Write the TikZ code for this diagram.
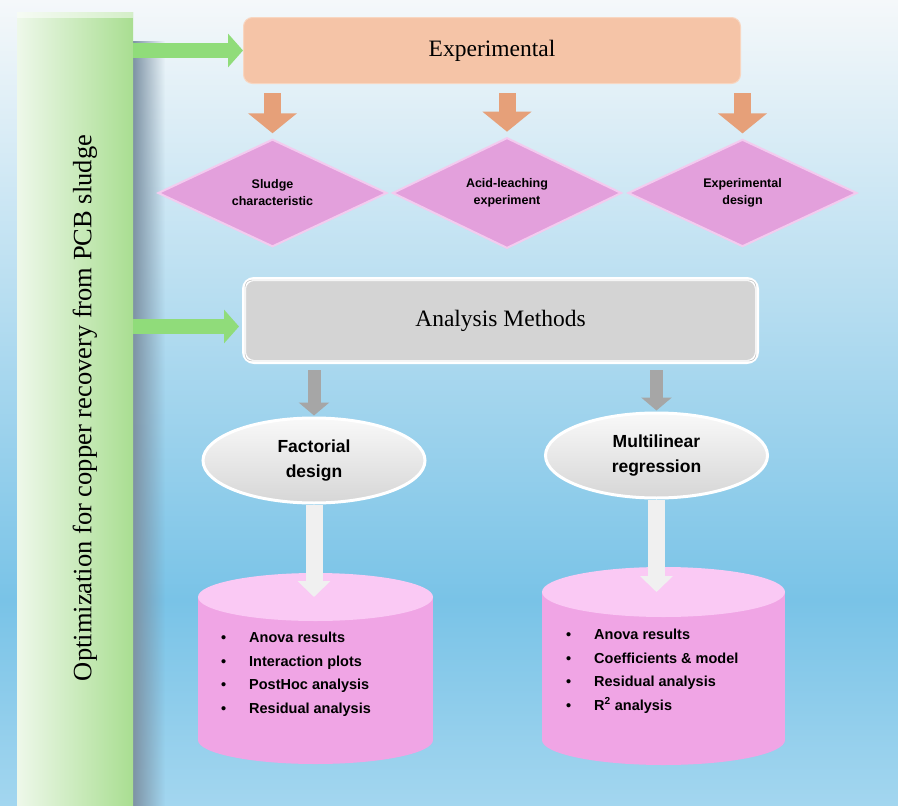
\documentclass[tikz,border=0pt]{standalone}
\usepackage{fontspec}
\setmainfont{Liberation Serif}
\setsansfont{Liberation Sans}
\usetikzlibrary{shapes.geometric,arrows.meta,fadings}

% Colori
\definecolor{sfondoalto}{HTML}{F5F8FA}
\definecolor{sfondomezzo}{HTML}{79C3E7}
\definecolor{sfondobasso}{HTML}{A3D6EF}
\definecolor{verdechiaro}{HTML}{EEF8EA}
\definecolor{verde}{HTML}{A9DE91}
\definecolor{verdefreccia}{HTML}{90DC7A}
\definecolor{ombra}{HTML}{7E93A5}
\definecolor{pesca}{HTML}{F5C4A7}
\definecolor{arancio}{HTML}{E6A079}
\definecolor{rosa}{HTML}{E3A0DC}
\definecolor{rosabordo}{HTML}{F3CBEF}
\definecolor{grigio}{HTML}{D4D4D4}
\definecolor{cilcorpo}{HTML}{F0A5E5}
\definecolor{cilcima}{HTML}{FAC9F4}

\tikzset{
  frecciaverde/.style={draw=verdefreccia, line width=15pt, -{Triangle[width=33pt,length=15pt]}},
  frecciaarancio/.style={draw=arancio, line width=17pt, -{Triangle[width=48pt,length=20pt]}, shorten <=9pt, shorten >=5pt},
  frecciagrigia/.style={draw=gray!70, line width=13pt, -{Triangle[width=30pt,length=13pt]}, shorten <=6pt, shorten >=1pt},
  frecciabianca/.style={draw=gray!12, line width=17pt, -{Triangle[width=32pt,length=16pt]}},
  rombo/.style={diamond, fill=rosa, draw=rosabordo, line width=2pt, minimum width=229pt, minimum height=105pt,
    inner sep=0pt, align=center, font=\sffamily\bfseries\fontsize{12.5}{17}\selectfont},
  ovale/.style={ellipse, draw=white, line width=3pt, top color=gray!5, bottom color=gray!32, minimum width=222pt,
    minimum height=85pt, align=center, font=\sffamily\bfseries\fontsize{17.5}{24.5}\selectfont},
  elenco/.style={anchor=north west, inner sep=0pt, align=left, font=\sffamily\bfseries\fontsize{14.5}{23.5}\selectfont}
}

\begin{document}
\begin{tikzpicture}[x=1pt,y=-1pt]

% Sfondo
\useasboundingbox (0,0) rectangle (898,806);
\shade[top color=sfondoalto, bottom color=sfondomezzo] (0,0) rectangle (898,600);
\shade[top color=sfondomezzo, bottom color=sfondobasso] (0,600) rectangle (898,806);

% Barra verde con ombra
\fill[ombra, path fading=east] (133,40) rectangle (165,806);
\node[left color=verdechiaro, right color=verde, minimum width=116pt, minimum height=794pt, inner sep=0pt] (barra) at (75,409) {};
\fill[white, opacity=0.5] (barra.north west) rectangle ([yshift=-6pt]barra.north east);
\node[rotate=90, font=\fontsize{26.5}{30}\selectfont] (titolo) at (85,408) {Optimization for copper recovery from PCB sludge};

% Blocco sperimentale
\node[rectangle, rounded corners=9pt, fill=pesca, draw=pesca!70!white, line width=1pt, minimum width=497pt,
  minimum height=66pt, font=\fontsize{23.5}{28}\selectfont] (exp) at (492,50.5) {Experimental};
\draw[frecciaverde] (barra.east |- exp.west) -- (exp.west);

% Rombi
\foreach \nome/\x/\testo in {d1/272.5/{Sludge\\characteristic}, d2/507/{Acid-leaching\\experiment}, d3/742.5/{Experimental\\design}} {
  \node[rombo] (\nome) at (\x,193) {\testo};
  \draw[frecciaarancio] (exp.south -| \nome.north) -- (\nome.north);
}

% Metodi di analisi
\node[rectangle, rounded corners=10pt, fill=grigio, draw=white, line width=4pt, minimum width=513pt,
  minimum height=83pt, font=\fontsize{23.5}{28}\selectfont] (am) at (500.5,320.5) {Analysis Methods};
\draw[gray!60, rounded corners=7pt] ([shift={(3pt,-3pt)}]am.north west) rectangle ([shift={(-3pt,3pt)}]am.south east);
\coordinate (ingresso) at ([yshift=-6pt]am.west);
\draw[frecciaverde, shorten >=3pt] (barra.east |- ingresso) -- (ingresso);

% Ovali
\node[ovale] (fd) at (314,460.5) {Factorial\\design};
\node[ovale] (mr) at (656.5,455.5) {Multilinear\\regression};
\draw[frecciagrigia] (am.south -| fd.north) -- (fd.north);
\draw[frecciagrigia] (am.south -| mr.north) -- (mr.north);

% Cilindri
\coordinate (cil1) at (315.5,597);
\coordinate (cil2) at (663.5,592);
\foreach \cx/\ya/\yb/\rx/\ry in {315.5/597/740/117.5/24, 663.5/592/740/121.5/25} {
  \fill[cilcorpo] (\cx-\rx,\ya) rectangle (\cx+\rx,\yb);
  \fill[cilcorpo] (\cx,\yb) ellipse ({\rx pt} and {\ry pt});
  \fill[cilcima] (\cx,\ya) ellipse ({\rx pt} and {\ry pt});
}
\draw[frecciabianca] (fd.south) -- (fd.south |- cil1);
\draw[frecciabianca] (mr.south) -- (mr.south |- cil2);

% Elenchi
\node[elenco] (el1) at (221,632) {\makebox[28pt][l]{\textbullet}Anova results\\
  \makebox[28pt][l]{\textbullet}Interaction plots\\
  \makebox[28pt][l]{\textbullet}PostHoc analysis\\
  \makebox[28pt][l]{\textbullet}Residual analysis};
\node[elenco] (el2) at (566,629) {\makebox[28pt][l]{\textbullet}Anova results\\
  \makebox[28pt][l]{\textbullet}Coefficients \& model\\
  \makebox[28pt][l]{\textbullet}Residual analysis\\
  \makebox[28pt][l]{\textbullet}R\textsuperscript{2} analysis};

\end{tikzpicture}
\end{document}
